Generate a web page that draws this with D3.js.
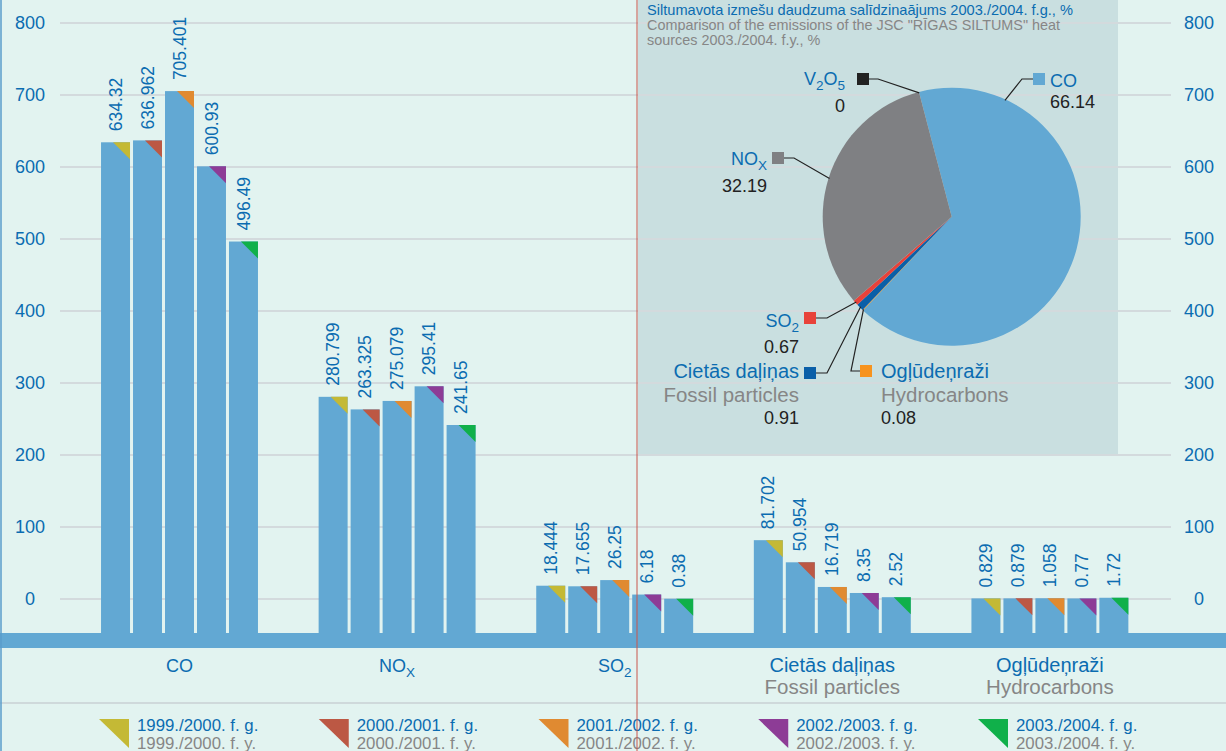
<!DOCTYPE html>
<html>
<head>
<meta charset="utf-8">
<script src="https://cdn.jsdelivr.net/npm/d3@7"></script>
<style>
  body { margin: 0; background: #e2f3f0; }
  svg { display: block; }
  text { font-family: "Liberation Sans", Arial, sans-serif; }
</style>
</head>
<body>
<div id="chart"></div>
<script>
// categories and series
const categories = ["CO", "NOx", "SO2", "Cietās daļiņas", "Ogļūdeņraži"];
const categoriesEn = ["", "", "", "Fossil particles", "Hydrocarbons"];
const years = ["1999./2000.", "2000./2001.", "2001./2002.", "2002./2003.", "2003./2004."];
const yearColors = ["#c4b935", "#bc5844", "#e08a31", "#8d3c96", "#10b04a"];

const v1999 = [634.32, 280.799, 18.444, 81.702, 0.829];
const v2000 = [636.962, 263.325, 17.655, 50.954, 0.879];
const v2001 = [705.401, 275.079, 26.25, 16.719, 1.058];
const v2002 = [600.93, 295.41, 6.18, 8.35, 0.77];
const v2003 = [496.49, 241.65, 0.38, 2.52, 1.72];
const seriesValues = [v1999, v2000, v2001, v2002, v2003];

const yTicks = [0, 100, 200, 300, 400, 500, 600, 700, 800];

// pie 2003./2004. (%)
const pieNames = ["CO", "Ogļūdeņraži", "Cietās daļiņas", "SO2", "NOx", "V2O5"];
const pieValues = [66.14, 0.08, 0.91, 0.67, 32.19, 0];
const pieColors = ["#62a8d3", "#f7931e", "#0a5fa8", "#e8423a", "#7f8083", "#222222"];

const W = 1226, H = 751;
const BLUE = "#0b6cb1", GRAY = "#868686", BAR = "#62a8d3";

// subscript helper
const subParts = {
  "NOx": [["NO", 0], ["X", 1]],
  "SO2": [["SO", 0], ["2", 1]],
  "V2O5": [["V", 0], ["2", 1], ["O", 0], ["5", 1]]
};
function writeLabel(t, name, size) {
  const parts = subParts[name] || [[name, 0]];
  let low = false;
  parts.forEach(p => {
    const ts = t.append("tspan").text(p[0]);
    if (p[1] && !low) { ts.attr("dy", size * 0.3).attr("font-size", size * 0.75); low = true; }
    else if (p[1]) { ts.attr("font-size", size * 0.75); }
    else if (!p[1] && low) { ts.attr("dy", -size * 0.3); low = false; }
  });
}
// wider lettering for words, formulas stay at base size
const wordSize = name => (subParts[name] || name === "CO") ? 18 : 20;

const svg = d3.select("#chart").append("svg").attr("width", W).attr("height", H);

svg.append("rect").attr("width", W).attr("height", H).attr("fill", "#e2f3f0");

// pie panel
svg.append("rect").attr("x", 638).attr("y", 0).attr("width", 480).attr("height", 456).attr("fill", "#c9dfe0");

const y = d3.scaleLinear().domain([0, 800]).range([599, 23]);
const x0 = d3.scaleBand().domain(categories).range([70.7, 1158.7]).paddingInner(0.265).paddingOuter(0.1325);
const x1 = d3.scaleBand().domain(years).range([0, x0.bandwidth()]).paddingInner(0.094).paddingOuter(0.047);

// grid
svg.append("g").selectAll("line").data(yTicks).enter().append("line")
  .attr("x1", 60).attr("x2", 1171)
  .attr("y1", d => y(d)).attr("y2", d => y(d))
  .attr("stroke", "#d3dadd").attr("stroke-width", 2);

[30, 1199].forEach(xx => {
  svg.append("g").selectAll("text").data(yTicks).enter().append("text")
    .attr("x", xx).attr("y", d => y(d)).attr("dy", "0.35em")
    .attr("text-anchor", "middle").attr("font-size", 18).attr("fill", BLUE)
    .text(d => d);
});

// bars
const barBottom = 640;
const groups = svg.append("g").selectAll("g").data(categories).enter().append("g")
  .attr("transform", d => "translate(" + x0(d) + ",0)");

groups.each(function (cat, ci) {
  const g = d3.select(this);
  years.forEach((yr, si) => {
    const v = seriesValues[si][ci];
    const bx = x1(yr), bw = x1.bandwidth(), top = y(v);
    g.append("rect").attr("x", bx).attr("y", top).attr("width", bw)
      .attr("height", barBottom - top).attr("fill", BAR);
    g.append("path")
      .attr("d", "M" + (bx + bw - 17) + "," + top + "L" + (bx + bw) + "," + top + "L" + (bx + bw) + "," + (top + 17) + "Z")
      .attr("fill", yearColors[si]);
    g.append("text")
      .attr("transform", "translate(" + (bx + bw / 2) + "," + (top - 11) + ") rotate(-90)")
      .attr("dy", "0.35em").attr("font-size", 17.5).attr("fill", BLUE)
      .text(v);
  });
});

// baseline band
svg.append("rect").attr("x", 0).attr("y", 633).attr("width", W).attr("height", 15).attr("fill", BAR);

// category labels
categories.forEach((c, i) => {
  const cx = x0(c) + x0.bandwidth() / 2;
  const fs = wordSize(c);
  const t = svg.append("text").attr("x", cx).attr("y", 672).attr("text-anchor", "middle")
    .attr("font-size", fs).attr("fill", BLUE);
  writeLabel(t, c, fs);
  if (categoriesEn[i]) {
    svg.append("text").attr("x", cx).attr("y", 694).attr("text-anchor", "middle")
      .attr("font-size", 20.5).attr("fill", GRAY).text(categoriesEn[i]);
  }
});

// legend
svg.append("line").attr("x1", 0).attr("x2", W).attr("y1", 703).attr("y2", 703)
  .attr("stroke", "#c9d0d4").attr("stroke-width", 1.5);
years.forEach((yr, i) => {
  const lx = 99 + i * 219.75;
  svg.append("path").attr("d", "M" + lx + ",719L" + (lx + 30) + ",719L" + (lx + 30) + ",748Z")
    .attr("fill", yearColors[i]);
  svg.append("text").attr("x", lx + 38).attr("y", 731).attr("font-size", 16.8).attr("fill", BLUE)
    .text(yr + " f. g.");
  svg.append("text").attr("x", lx + 38).attr("y", 749).attr("font-size", 16.8).attr("fill", GRAY)
    .text(yr + " f. y.");
});

// pie title
svg.append("text").attr("x", 647).attr("y", 15).attr("font-size", 14.6).attr("fill", BLUE)
  .text("Siltumavota izmešu daudzuma salīdzinaājums 2003./2004. f.g., %");
svg.append("text").attr("x", 647).attr("y", 30).attr("font-size", 14.4).attr("fill", GRAY)
  .text("Comparison of the emissions of the JSC \"RĪGAS SILTUMS\" heat");
svg.append("text").attr("x", 647).attr("y", 45).attr("font-size", 14.4).attr("fill", GRAY)
  .text("sources 2003./2004. f.y., %");

// pie
const pcx = 951.7, pcy = 216.7, pr = 129;
const a0 = -14.7 * Math.PI / 180;
const pie = d3.pie().sort(null).startAngle(a0).endAngle(a0 + 2 * Math.PI);
const arcs = pie(pieValues);
const arc = d3.arc().innerRadius(0).outerRadius(pr);
const pg = svg.append("g").attr("transform", "translate(" + pcx + "," + pcy + ")");
pg.selectAll("path").data(arcs).enter().append("path")
  .attr("d", arc).attr("fill", (d, i) => pieColors[i]);

// pie labels: square position, elbow x, where on slice the leader lands
const pieLab = [
  { i: 0, sq: [1033, 73], side: "left", elbow: 1022, frac: 0.165, textX: 1050, textAnchor: "start", nameY: 87, valY: 108 },
  { i: 1, sq: [860, 365], side: "left", elbow: 851, frac: 0.5, textX: 881, textAnchor: "start", nameY: 378, enY: 402, valY: 424 },
  { i: 2, sq: [804, 367], side: "right", elbow: 827, frac: 0.5, textX: 799, textAnchor: "end", nameY: 378, enY: 402, valY: 424 },
  { i: 3, sq: [804, 312], side: "right", elbow: 827, frac: 0.5, textX: 799, textAnchor: "end", nameY: 327, valY: 353 },
  { i: 4, sq: [772, 152], side: "right", elbow: 794, frac: 0.5, textX: 767, textAnchor: "end", nameY: 165, valY: 192 },
  { i: 5, sq: [857, 73], side: "right", elbow: 878, frac: 0.5, textX: 845, textAnchor: "end", nameY: 85, valY: 112 }
];
const pieEn = { 1: "Hydrocarbons", 2: "Fossil particles" };

pieLab.forEach(L => {
  const a = arcs[L.i];
  const ang = a.startAngle + (a.endAngle - a.startAngle) * L.frac;
  const px = pcx + (pr - 1) * Math.sin(ang), py = pcy - (pr - 1) * Math.cos(ang);
  const my = L.sq[1] + 6;
  const sx = L.side === "left" ? L.sq[0] : L.sq[0] + 12;
  svg.append("polyline")
    .attr("points", [[sx, my], [L.elbow, my], [px, py]].map(p => p.join(",")).join(" "))
    .attr("fill", "none").attr("stroke", "#222").attr("stroke-width", 1.2);
  svg.append("rect").attr("x", L.sq[0]).attr("y", L.sq[1]).attr("width", 12).attr("height", 12)
    .attr("fill", pieColors[L.i]);
  const fs = wordSize(pieNames[L.i]);
  const t = svg.append("text").attr("x", L.textX).attr("y", L.nameY)
    .attr("text-anchor", L.textAnchor).attr("font-size", fs).attr("fill", BLUE);
  writeLabel(t, pieNames[L.i], fs);
  if (pieEn[L.i]) {
    svg.append("text").attr("x", L.textX).attr("y", L.enY).attr("text-anchor", L.textAnchor)
      .attr("font-size", 20.5).attr("fill", GRAY).text(pieEn[L.i]);
  }
  svg.append("text").attr("x", L.textX).attr("y", L.valY).attr("text-anchor", L.textAnchor)
    .attr("font-size", 18).attr("fill", "#222").text(pieValues[L.i]);
});

// frame lines
svg.append("line").attr("x1", 637).attr("x2", 637).attr("y1", 0).attr("y2", H)
  .attr("stroke", "#c9574d").attr("stroke-width", 1);
svg.append("line").attr("x1", 1).attr("x2", 1).attr("y1", 0).attr("y2", H)
  .attr("stroke", "#5a9ccb").attr("stroke-width", 1.5);
</script>
</body>
</html>
